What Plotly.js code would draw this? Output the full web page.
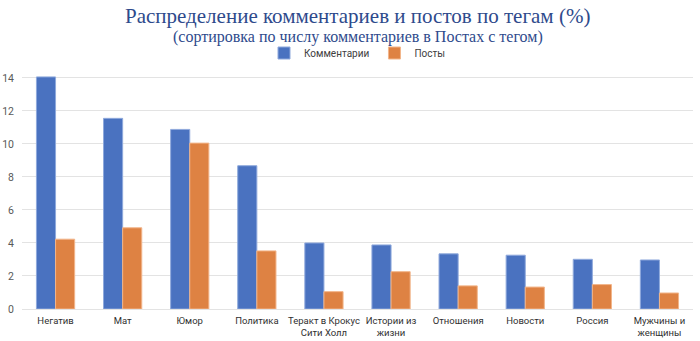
<!DOCTYPE html>
<html><head><meta charset="utf-8">
<script src="https://cdn.plot.ly/plotly-3.0.1.min.js"></script>
<style>html,body{margin:0;padding:0;background:#fff}#c{width:700px;height:341px}</style>
</head><body><div id="c"></div>
<script>
const categories = ["Негатив","Мат","Юмор","Политика","Теракт в Крокус<br>Сити Холл","Истории из<br>жизни","Отношения","Новости","Россия","Мужчины и<br>женщины"];
const comments = [14.06,11.55,10.88,8.68,4.00,3.88,3.34,3.26,3.01,2.97];
const posts = [4.23,4.92,10.05,3.52,1.05,2.26,1.40,1.33,1.48,0.97];
const yTicks = [0,2,4,6,8,10,12,14];

const traces = [
 {type:'bar', name:'Комментарии', x:categories, y:comments,
  marker:{color:'#4A72C0', line:{color:'#8FA9DC', width:1}}},
 {type:'bar', name:'Посты', x:categories, y:posts,
  marker:{color:'#DE8243', line:{color:'#F2B58A', width:1}}}
];
const layout = {
 width:700, height:341,
 margin:{l:22, r:7, t:68, b:32},
 paper_bgcolor:'#fff', plot_bgcolor:'#fff',
 barmode:'group', bargap:0.43, bargroupgap:0,
 showlegend:true,
 legend:{orientation:'h', x:0.5, xanchor:'center', y:(309-53)/241, yanchor:'middle',
   font:{family:'Roboto, Arial, sans-serif', size:10, color:'#404040'}, itemwidth:20, traceorder:'normal'},
 xaxis:{tickfont:{family:'Roboto, Arial, sans-serif', size:9.5, color:'#303030'},
   showgrid:false, showline:false, ticks:'', fixedrange:true, ticklabelstandoff:4},
 yaxis:{range:[0,14.6], tickvals:yTicks, ticktext:yTicks.map(String),
   tickfont:{family:'Roboto, Arial, sans-serif', size:10.5, color:'#595959'},
   showgrid:true, gridcolor:'#E3E3E3', gridwidth:1, zeroline:true, zerolinecolor:'#E3E3E3',
   showline:false, ticks:'', ticklabelstandoff:7},
 annotations:[
  {text:'Распределение комментариев и постов по тегам (%)', xref:'paper', yref:'paper',
   x:0.5, xanchor:'center', y:(309-16)/241, yanchor:'middle', showarrow:false,
   font:{family:'Liberation Serif, serif', size:21, color:'#2E4A8C'}},
  {text:'(сортировка по числу комментариев в Постах с тегом)', xref:'paper', yref:'paper',
   x:0.5, xanchor:'center', y:(309-37)/241, yanchor:'middle', showarrow:false,
   font:{family:'Liberation Serif, serif', size:16, color:'#2E4A8C'}}
 ]
};
Plotly.newPlot('c', traces, layout, {displayModeBar:false, staticPlot:true});
</script></body></html>
